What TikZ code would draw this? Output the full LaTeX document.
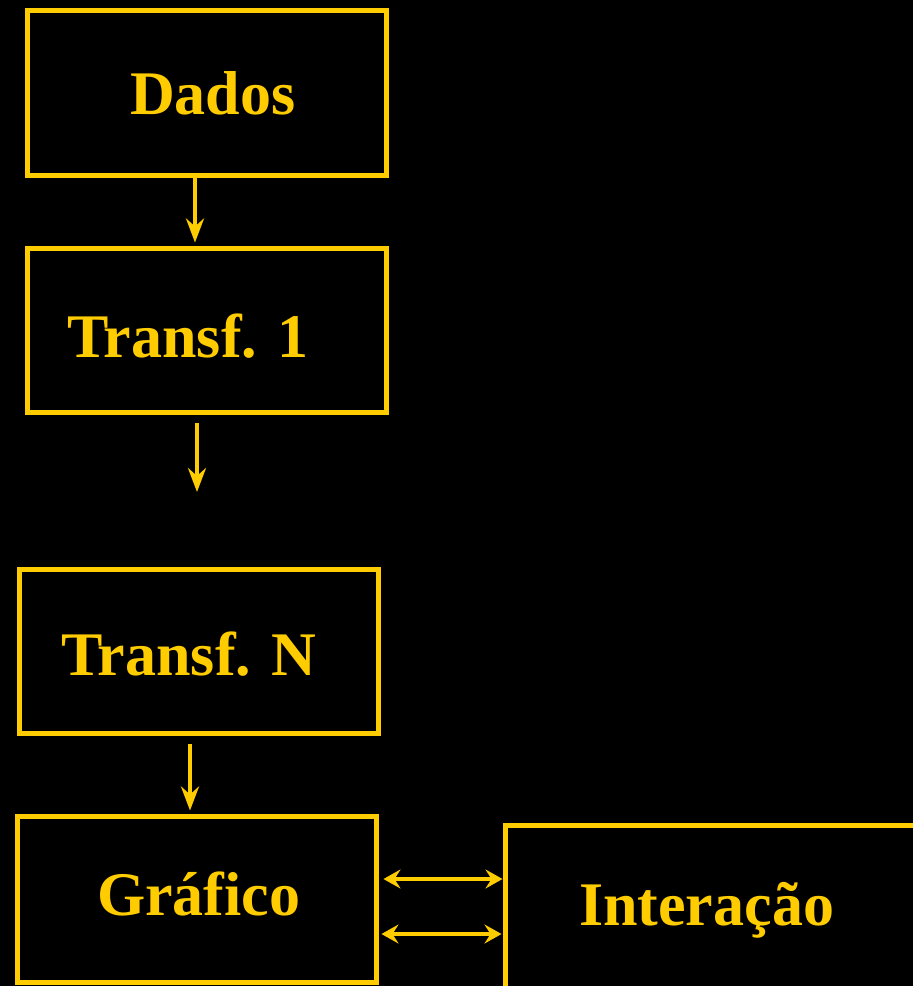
\documentclass[tikz,border=0pt]{standalone}
\usepackage{fontspec}
\setmainfont{Liberation Serif}
\usetikzlibrary{arrows.meta}
\definecolor{gold}{HTML}{FFCC00}
\tikzset{
  box/.style={draw=gold, line width=5pt, inner sep=0pt, fill=none},
  lbl/.style={text=gold, anchor=base west, inner sep=0pt, font=\fontsize{62}{70}\selectfont\bfseries},
  arr/.style={draw=gold, line width=4pt, -{Stealth[length=24pt,width=18pt,inset=8pt]}},
  darr/.style={draw=gold, line width=4.5pt, {Stealth[length=17pt,width=19pt,inset=6pt]}-{Stealth[length=17pt,width=19pt,inset=6pt]}}
}
\begin{document}
\begin{tikzpicture}[x=1pt,y=-1pt]
\useasboundingbox (0,0) rectangle (913,986);
\fill[black] (0,0) rectangle (913,986);
\clip (0,0) rectangle (913,986);
% boxes
\node[box, minimum width=359pt, minimum height=165pt] (dados) at (206.5,92.5) {};
\node[box, minimum width=359pt, minimum height=164pt] (t1) at (206.5,330) {};
\node[box, minimum width=359pt, minimum height=164pt] (tn) at (198.5,651) {};
\node[box, minimum width=359pt, minimum height=166pt] (graf) at (196.5,899) {};
\node[box, minimum width=430pt, minimum height=190pt] (inter) at (720,920) {};
% labels
\node[lbl] (ldados) at (130,114) {Dados};
\node[lbl] (lt1) at (67,357) {Transf. 1};
\node[lbl] (ltn) at (61,675) {Transf. N};
\node[lbl] (lgraf) at (97,915) {Gráfico};
\node[lbl] (linter) at (579,925) {Interação};
% arrows
\draw[arr] ([xshift=-11.5pt]dados.south) -- ([xshift=-11.5pt,yshift=3pt]t1.north);
\coordinate (a2s) at (197,423);
\coordinate (a2e) at (197,492);
\draw[arr] (a2s) -- (a2e);
\draw[arr] ([xshift=-8.5pt,yshift=-8pt]tn.south) -- ([xshift=-6.5pt,yshift=3pt]graf.north);
\draw[darr] ([xshift=5pt]graf.east |- 0,879) -- (inter.west |- 0,879);
\draw[darr] ([xshift=3pt]graf.east |- 0,934) -- ([xshift=-1pt]inter.west |- 0,934);
\end{tikzpicture}
\end{document}
